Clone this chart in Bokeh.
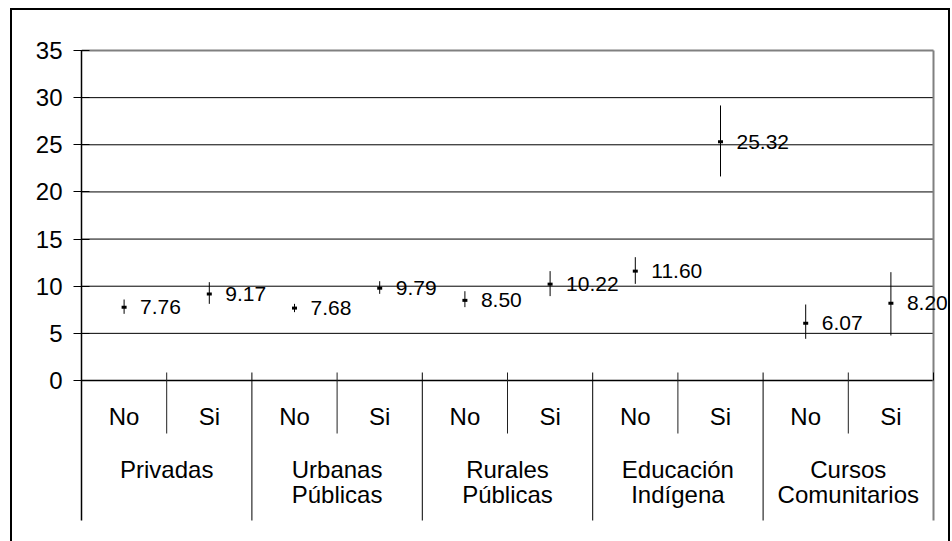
from bokeh.plotting import figure
from bokeh.models import Range1d, FixedTicker, ColumnDataSource
from bokeh.core.properties import value
from bokeh.embed import file_html
from bokeh.resources import INLINE

# ---- data ----
groups = ["Privadas", "Urbanas\nPúblicas", "Rurales\nPúblicas",
          "Educación\nIndígena", "Cursos\nComunitarios"]
subgroups = ["No", "Si"]
means = [7.76, 9.17, 7.68, 9.79, 8.50, 10.22, 11.60, 25.32, 6.07, 8.20]
err_low = [7.07, 8.13, 7.25, 9.19, 7.78, 8.95, 10.25, 21.64, 4.42, 4.77]
err_high = [8.59, 10.43, 8.13, 10.53, 9.47, 11.60, 13.08, 29.17, 8.06, 11.49]
y_ticks = [0, 5, 10, 15, 20, 25, 30, 35]

FONT = "Liberation Sans"

n = len(means)
xc = [i + 0.5 for i in range(n)]
sub_labels = [subgroups[i % 2] for i in range(n)]
grp_x = [2 * g + 1 for g in range(len(groups))]

# layout helpers (pixels -> data)
ppu_y = 330 / 35.0
ppu_x = 85.2
sep_inner_bottom = -53 / ppu_y
sep_group_bottom = -140 / ppu_y
sep_top = 8 / ppu_y

p = figure(width=940, height=533,
           x_range=Range1d(0, 866 / ppu_x), y_range=Range1d(-141 / ppu_y, 335 / ppu_y),
           output_backend="svg", toolbar_location=None, x_axis_location=None,
           min_border_left=71, min_border_right=3, min_border_top=37, min_border_bottom=20,
           styles={"margin-left": "10px", "margin-top": "8px",
                   "box-shadow": "inset 2px 2px 0 0 #000000, inset -2px 0 0 0 #000000"})
p.grid.visible = False
p.outline_line_color = None
p.background_fill_color = "white"
p.border_fill_color = None

ax = p.yaxis[0]
ax.ticker = FixedTicker(ticks=y_ticks)
ax.bounds = (sep_group_bottom, max(y_ticks))
ax.minor_tick_line_color = None
ax.major_tick_in = 8
ax.major_tick_out = 8
ax.major_tick_line_color = "black"
ax.axis_line_color = "black"
ax.axis_line_width = 1.5
ax.major_label_standoff = 11
ax.major_label_text_font = FONT
ax.major_label_text_font_size = "24px"
ax.major_label_text_color = "black"

# grid lines
inner = [t for t in y_ticks if 0 < t < max(y_ticks)]
p.segment(x0=[0] * len(inner), y0=inner, x1=[n] * len(inner), y1=inner,
          line_color="black", line_width=1)
# top border (gray) and zero line
p.segment(x0=[0], y0=[max(y_ticks)], x1=[n], y1=[max(y_ticks)], line_color="#808080", line_width=2)
p.segment(x0=[0], y0=[0], x1=[n], y1=[0], line_color="black", line_width=1.5)
# right border (gray)
p.segment(x0=[n], y0=[sep_group_bottom], x1=[n], y1=[max(y_ticks)], line_color="#808080", line_width=2)

# category separators
inner_b = [b for b in range(1, n) if b % 2 == 1]
group_b = [b for b in range(1, n) if b % 2 == 0]
p.segment(x0=inner_b, y0=[sep_top] * len(inner_b), x1=inner_b, y1=[sep_inner_bottom] * len(inner_b),
          line_color="#202020", line_width=1)
p.segment(x0=group_b, y0=[sep_top] * len(group_b), x1=group_b, y1=[sep_group_bottom] * len(group_b),
          line_color="black", line_width=1)
p.segment(x0=[n], y0=[sep_top], x1=[n], y1=[0], line_color="black", line_width=1)

# category labels
p.text(x=xc, y=[-35.5 / ppu_y] * n, text=sub_labels, text_font=value(FONT),
       text_font_size="24px", text_align="center", text_baseline="middle", text_color="black")
p.text(x=grp_x, y=[-75 / ppu_y] * len(groups), text=groups, text_font=value(FONT),
       text_font_size="24px", text_align="center", text_baseline="top", text_color="black",
       text_line_height=0.93)

# error bars + markers + labels
src = ColumnDataSource(dict(x=xc, m=means, lo=err_low, hi=err_high,
                            lab=[f"{v:.2f}" for v in means]))
p.segment(x0="x", y0="lo", x1="x", y1="hi", source=src, line_color="black", line_width=1)
p.rect(x="x", y="m", width=5, height=3, width_units="screen", height_units="screen",
       source=src, fill_color="black", line_color=None)
p.text(x="x", y="m", text="lab", source=src, x_offset=16, text_font=value(FONT),
       text_font_size="21px", text_align="left", text_baseline="middle", text_color="black")

open("out.html", "w").write(file_html(p, INLINE))
